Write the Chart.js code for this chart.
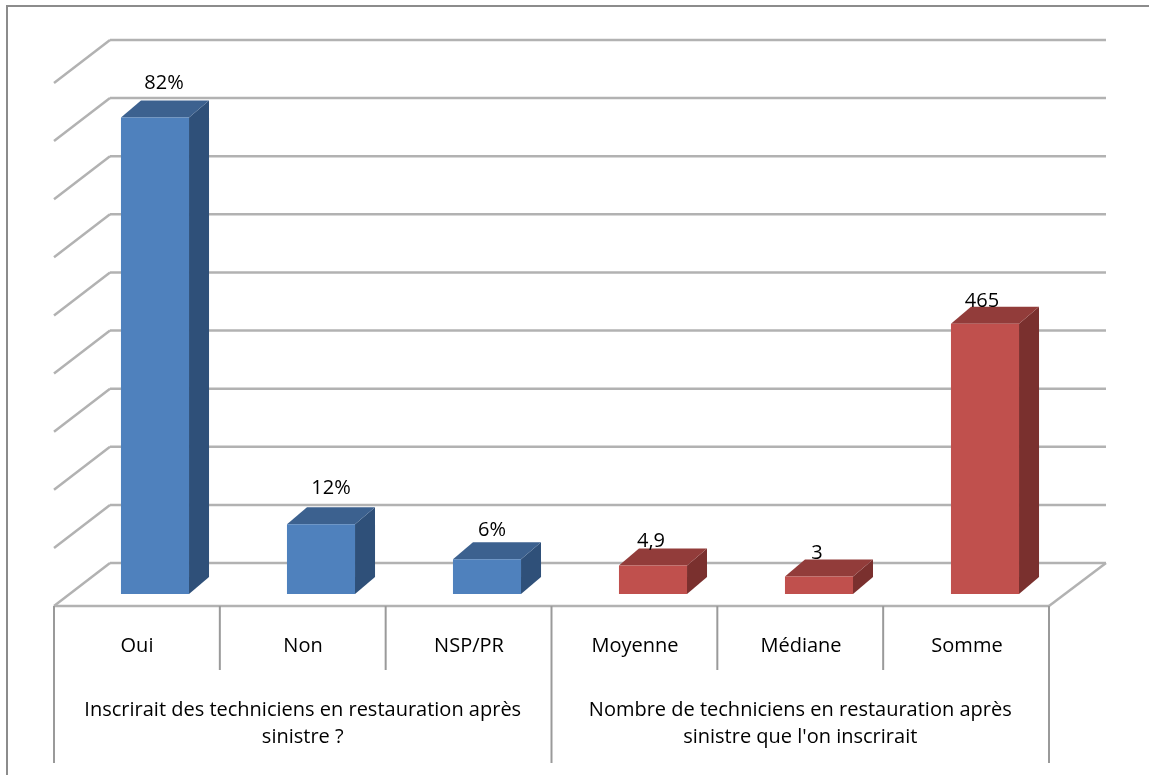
<!DOCTYPE html>
<html>
<head>
<meta charset="utf-8">
<style>
  html, body { margin: 0; padding: 0; background: #fff; overflow: hidden; }
  #wrap { width: 1149px; height: 775px; position: relative; }
</style>
<script src="https://cdn.jsdelivr.net/npm/chart.js@4/dist/chart.umd.min.js"></script>
</head>
<body>
<div id="wrap"><canvas id="chart" width="1149" height="775"></canvas></div>
<script>
// values as plotted (Somme 465 sits at 46.5 on the shared axis)
const categories = ['Oui', 'Non', 'NSP/PR', 'Moyenne', 'Médiane', 'Somme'];
const barValues = [82, 12, 6, 4.9, 3, 46.5];
const barLabels = ['82%', '12%', '6%', '4,9', '3', '465'];
const groupLines = [
  ['Inscrirait des techniciens en restauration après', 'sinistre ?'],
  ['Nombre de techniciens en restauration après', "sinistre que l'on inscrirait"]
];
const groupSizes = [3, 3];
const axisMax = 90;
const axisStep = 10;

const FONT = '"Open Sans", Lato, sans-serif';
const GRID = '#b2b2b2';
const AXIS = '#9a9a9a';
const FRONT = ['#4f81bd', '#4f81bd', '#4f81bd', '#c0504d', '#c0504d', '#c0504d'];
const TOP = ['#3c618f', '#3c618f', '#3c618f', '#923c3a', '#923c3a', '#923c3a'];
const SIDE = ['#2f5079', '#2f5079', '#2f5079', '#7a302e', '#7a302e', '#7a302e'];

// 3D look: floor/wall offsets relative to the plot area
const wall = { frontX: -18, frontY: 12, backX: 38, backY: -31, frontShrink: 1 };
const depth = { x: 20, y: -17 };
// hand placed label nudges, Excel put them a bit all over the place
const labelNudge = [[9, -34], [10, -36], [5, -29], [-2, -24], [-2, -23], [-3, -22]];

function line(ctx, x1, y1, x2, y2) {
  ctx.beginPath();
  ctx.moveTo(x1, y1);
  ctx.lineTo(x2, y2);
  ctx.stroke();
}

const box3d = {
  id: 'box3d',
  beforeDatasetsDraw(chart) {
    const { ctx, chartArea: a, scales: { y } } = chart;
    const left = a.left + wall.backX;
    const right = a.right + wall.backX;
    ctx.save();

    // frame
    ctx.strokeStyle = '#8c8c8c';
    ctx.lineWidth = 2;
    ctx.beginPath();
    ctx.moveTo(7, 775);
    ctx.lineTo(7, 6);
    ctx.lineTo(1149, 6);
    ctx.stroke();

    // back wall + left wall gridlines
    ctx.strokeStyle = GRID;
    ctx.lineWidth = 2.5;
    y.ticks.forEach(t => {
      const py = y.getPixelForValue(t.value) + wall.backY;
      line(ctx, left, py, right, py);
      line(ctx, left, py, a.left + wall.frontX, py - wall.backY + wall.frontY);
    });

    // floor front edge + right edge
    const base = y.getPixelForValue(0);
    const fx1 = a.left + wall.frontX;
    const fx2 = a.right + wall.frontX - wall.frontShrink;
    const fy = base + wall.frontY;
    line(ctx, fx1, fy, fx2, fy);
    line(ctx, fx2, fy, right, base + wall.backY);

    // category table lines
    ctx.strokeStyle = AXIS;
    ctx.lineWidth = 2;
    const catW = (fx2 - fx1) / categories.length;
    for (let i = 0; i <= categories.length; i++) {
      const lx = fx1 + i * catW;
      let edge = false, n = 0;
      groupSizes.forEach(s => { if (i === n) edge = true; n += s; });
      if (i === n) edge = true;
      line(ctx, lx, fy, lx, edge ? 763 : 670);
    }

    // side and top faces of the bars
    chart.getDatasetMeta(0).data.forEach((bar, i) => {
      const hw = bar.width / 2;
      const l = bar.x - hw, r = bar.x + hw, t = bar.y, b = bar.base;
      ctx.fillStyle = SIDE[i];
      ctx.beginPath();
      ctx.moveTo(r, t);
      ctx.lineTo(r + depth.x, t + depth.y);
      ctx.lineTo(r + depth.x, b + depth.y);
      ctx.lineTo(r, b);
      ctx.closePath();
      ctx.fill();
      ctx.fillStyle = TOP[i];
      ctx.beginPath();
      ctx.moveTo(l, t);
      ctx.lineTo(l + depth.x, t + depth.y);
      ctx.lineTo(r + depth.x, t + depth.y);
      ctx.lineTo(r, t);
      ctx.closePath();
      ctx.fill();
    });
    ctx.restore();
  },
  afterDatasetsDraw(chart) {
    const { ctx, chartArea: a } = chart;
    ctx.save();
    ctx.fillStyle = '#000';
    ctx.font = '20px ' + FONT;
    ctx.textAlign = 'center';
    ctx.textBaseline = 'middle';

    chart.getDatasetMeta(0).data.forEach((bar, i) => {
      ctx.fillText(barLabels[i], bar.x + labelNudge[i][0], bar.y + labelNudge[i][1]);
    });

    // second level of the category axis
    const fx1 = a.left + wall.frontX;
    const catW = (a.right + wall.frontX - wall.frontShrink - fx1) / categories.length;
    let start = 0;
    groupSizes.forEach((size, g) => {
      const cx = fx1 + (start + size / 2) * catW;
      groupLines[g].forEach((txt, k) => ctx.fillText(txt, cx, 710 + k * 27));
      start += size;
    });
    ctx.restore();
  }
};

new Chart(document.getElementById('chart'), {
  type: 'bar',
  data: {
    labels: categories,
    datasets: [{
      data: barValues,
      backgroundColor: FRONT,
      borderWidth: 0,
      barPercentage: 0.41,
      categoryPercentage: 1
    }]
  },
  options: {
    responsive: false,
    animation: false,
    layout: { padding: { left: 72, right: 81, top: 71, bottom: 0 } },
    plugins: { legend: { display: false }, tooltip: { enabled: false } },
    scales: {
      x: {
        grid: { display: false, drawTicks: false },
        border: { display: false },
        ticks: {
          color: '#000',
          font: { family: FONT, size: 20 },
          padding: 40,
          labelOffset: -18,
          autoSkip: false,
          maxRotation: 0
        },
        afterFit(s) { s.height = 181; }
      },
      y: {
        display: false,
        min: 0,
        max: axisMax,
        ticks: { stepSize: axisStep }
      }
    }
  },
  plugins: [box3d]
});
</script>
</body>
</html>
